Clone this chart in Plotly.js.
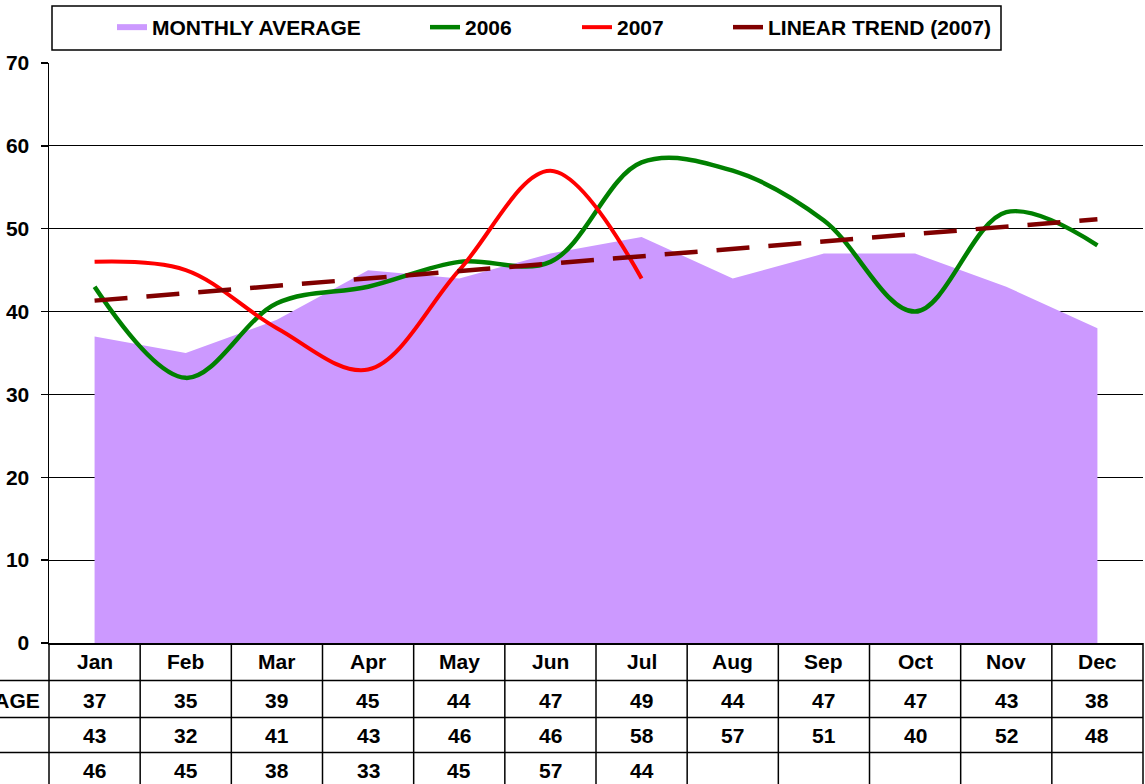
<!DOCTYPE html>
<html>
<head>
<meta charset="utf-8">
<script src="https://cdn.plot.ly/plotly-3.0.1.min.js"></script>
<style>html,body{margin:0;padding:0;background:#fff;}#chart{width:1145px;height:784px;}</style>
</head>
<body>
<div id="chart"></div>
<script>
var months = ["Jan","Feb","Mar","Apr","May","Jun","Jul","Aug","Sep","Oct","Nov","Dec"];
var monthlyAverage = [37,35,39,45,44,47,49,44,47,47,43,38];
var y2006 = [43,32,41,43,46,46,58,57,51,40,52,48];
var y2007 = [46,45,38,33,45,57,44];
var rowLabels = ["MONTHLY AVERAGE"];
var yTicks = [0,10,20,30,40,50,60,70];

// Linear trend (least squares) of the 2007 series, extended over all months
var n = y2007.length, sx = 0, sy = 0, sxy = 0, sxx = 0;
for (var i = 0; i < n; i++) { var xx = i + 1; sx += xx; sy += y2007[i]; sxy += xx * y2007[i]; sxx += xx * xx; }
var slope = (n * sxy - sx * sy) / (n * sxx - sx * sx);
var intercept = (sy - slope * sx) / n;
var trend = months.map(function(m, i){ return intercept + slope * (i + 1); });

var FONT = "Liberation Sans, Arial, sans-serif";
var FS = 21;

var traces = [
  {x: months, y: monthlyAverage, type: "scatter", mode: "none", fill: "tozeroy",
   fillcolor: "#CC99FF", name: "MONTHLY AVERAGE", legend: "legend", hoverinfo: "skip"},
  {x: months, y: y2006, type: "scatter", mode: "lines", name: "2006", legend: "legend2",
   line: {color: "#008000", width: 4.5, shape: "spline", smoothing: 1}},
  {x: months.slice(0, y2007.length), y: y2007, type: "scatter", mode: "lines", name: "2007", legend: "legend3",
   line: {color: "#FF0000", width: 4, shape: "spline", smoothing: 1}},
  {x: months, y: trend, type: "scatter", mode: "lines", name: "LINEAR TREND (2007)", legend: "legend4",
   line: {color: "#800000", width: 4.5, dash: "33px,19px"}}
];

// table
var L = 49, R = 2, T = 63, B = 141, W = 1145, H = 784;
var plotH = H - T - B, plotW = W - L - R;
function py(p){ return (H - B - p) / plotH; }   // pixel y -> paper y
function px(p){ return (p - L) / plotW; }       // pixel x -> paper x
var rowY = [py(661), py(700), py(735), py(770)];
var lineY = [py(680.5), py(717.5), py(752.5)];

var annotations = [];
months.forEach(function(m){
  annotations.push({x: m, xref: "x", y: rowY[0], yref: "paper", text: m, showarrow: false,
    font: {family: FONT, size: FS, color: "#000", weight: "bold"}, xanchor: "center", yanchor: "middle"});
});
var series = [monthlyAverage, y2006, y2007];
series.forEach(function(arr, r){
  arr.forEach(function(v, i){
    annotations.push({x: months[i], xref: "x", y: rowY[r+1], yref: "paper", text: String(v), showarrow: false,
      font: {family: FONT, size: FS, color: "#000", weight: "bold"}, xanchor: "center", yanchor: "middle"});
  });
});
rowLabels.forEach(function(lbl, r){
  annotations.push({x: px(42), xref: "paper", y: rowY[r+1], yref: "paper", text: lbl, showarrow: false,
    font: {family: FONT, size: FS, color: "#000", weight: "bold"}, xanchor: "right", yanchor: "middle"});
});

var shapes = [];
for (var k = 0; k <= months.length; k++) {
  var xp = k / months.length;
  shapes.push({type: "line", xref: "paper", yref: "paper", x0: xp, x1: xp, y0: 0, y1: py(790),
    line: {color: "#000", width: 1.5}});
}
lineY.forEach(function(yy){
  shapes.push({type: "line", xref: "paper", yref: "paper", x0: px(-5), x1: 1, y0: yy, y1: yy,
    line: {color: "#000", width: 1.5}});
});
// legend box
shapes.push({type: "rect", xref: "paper", yref: "paper", x0: px(52), x1: px(1001), y0: py(6), y1: py(50),
  line: {color: "#000", width: 1.5}, fillcolor: "rgba(0,0,0,0)"});

function leg(textX){
  return {x: px(textX - 40), xref: "paper", y: py(7), yref: "paper", xanchor: "left", yanchor: "top",
    orientation: "h", bgcolor: "rgba(0,0,0,0)", borderwidth: 0,
    font: {family: FONT, size: FS, color: "#000", weight: "bold"}};
}

var layout = {
  width: W, height: H,
  margin: {l: L, r: R, t: T, b: B, pad: 0},
  paper_bgcolor: "#fff", plot_bgcolor: "#fff",
  font: {family: FONT, size: FS, color: "#000", weight: "bold"},
  showlegend: true,
  legend: leg(152), legend2: leg(465), legend3: leg(617), legend4: leg(768),
  xaxis: {type: "category", range: [-0.5, months.length - 0.5], showticklabels: false, ticks: "",
    showgrid: false, showline: true, linecolor: "#000", linewidth: 1.5, zeroline: false, fixedrange: true},
  yaxis: {range: [0, 70], tickvals: yTicks, ticktext: yTicks.map(String), showgrid: true, gridcolor: "#000", gridwidth: 1.2,
    showline: true, linecolor: "#000", linewidth: 1.5, ticks: "outside", ticklen: 7, tickcolor: "#000", tickwidth: 1.5,
    ticklabelstandoff: 7, zeroline: false, fixedrange: true,
    tickfont: {family: FONT, size: FS, color: "#000", weight: "bold"}},
  annotations: annotations,
  shapes: shapes
};

Plotly.newPlot("chart", traces, layout, {displayModeBar: false, staticPlot: true});
</script>
</body>
</html>
